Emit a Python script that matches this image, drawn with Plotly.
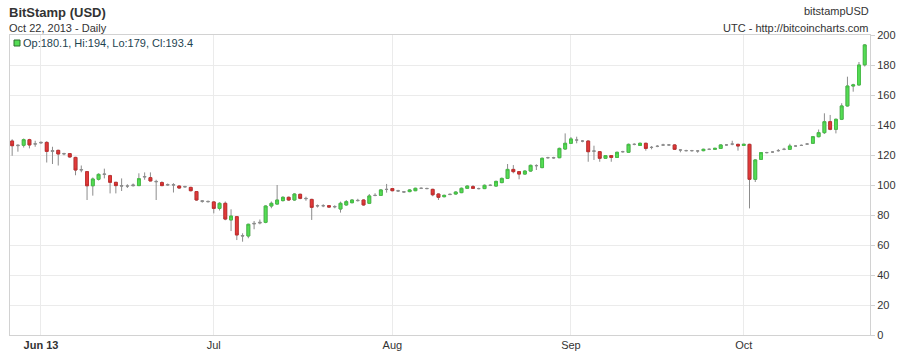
import numpy as np
import pandas as pd
import plotly.graph_objects as go

# ---- data ----
start_date = "2013-05-27"
opens = [129.3, 126.2, 126.5, 130.2, 127.5, 128.0, 128.4, 122.4, 123.1, 120.7,
         120.9, 118.4, 110.0, 108.9, 99.5, 103.8, 107.1, 106.2, 101.8, 99.6,
         99.3, 99.5, 99.6, 105.3, 104.9, 102.4, 101.6, 100.0, 100.2, 99.3,
         98.7, 98.4, 95.6, 89.5, 89.1, 88.7, 84.4, 87.8, 76.7, 78.9,
         66.3, 66.0, 74.0, 74.6, 75.1, 86.0, 87.3, 89.6, 91.8, 90.0,
         93.8, 91.1, 90.4, 86.0, 86.1, 86.2, 85.4, 84.0, 86.7, 88.2,
         89.8, 90.0, 87.8, 93.0, 93.1, 97.0, 97.6, 96.2, 95.5, 95.6,
         96.2, 97.8, 97.7, 97.1, 94.0, 92.2, 93.6, 94.0, 94.9, 97.8,
         98.9, 97.6, 97.6, 99.8, 99.3, 101.6, 104.4, 110.4, 108.9, 107.3,
         109.3, 112.9, 111.6, 118.2, 118.0, 118.2, 124.0, 127.8, 130.0, 129.3,
         129.3, 122.5, 122.2, 117.8, 119.6, 118.4, 122.2, 121.8, 127.1, 126.4,
         127.8, 125.0, 125.8, 126.6, 126.7, 126.7, 123.4, 122.9, 122.9, 122.7,
         122.9, 123.8, 123.8, 124.4, 126.7, 127.3, 127.1, 126.4, 127.1, 103.8,
         117.1, 121.6, 122.0, 122.9, 123.8, 123.8, 126.0, 126.4, 127.3, 127.8,
         132.2, 134.9, 142.2, 137.1, 143.8, 152.7, 166.0, 166.7, 180.1]
highs = [130.5, 127.1, 131.0, 130.8, 129.5, 129.0, 129.2, 125.5, 123.5, 121.5,
         121.2, 118.8, 113.0, 109.3, 105.0, 107.8, 110.9, 106.8, 102.0, 104.4,
         100.5, 101.0, 107.8, 108.4, 108.4, 103.5, 102.5, 101.0, 101.2, 99.8,
         99.5, 98.8, 96.0, 90.0, 89.6, 89.2, 88.5, 89.0, 83.8, 79.2,
         67.8, 74.2, 76.0, 77.0, 86.4, 89.0, 100.0, 92.5, 92.3, 94.5,
         94.2, 92.2, 90.8, 87.0, 87.2, 86.6, 86.5, 88.9, 90.0, 90.5,
         90.8, 90.4, 94.0, 94.5, 97.2, 100.7, 98.0, 96.8, 96.0, 97.2,
         98.2, 98.4, 98.2, 97.5, 94.4, 93.6, 94.3, 95.8, 98.3, 99.8,
         100.0, 98.2, 100.3, 100.4, 102.9, 105.0, 114.0, 113.3, 109.3, 109.8,
         113.6, 113.8, 118.3, 118.8, 118.8, 124.9, 134.4, 132.0, 132.2, 130.0,
         129.7, 126.2, 122.6, 120.0, 120.0, 122.2, 122.8, 127.6, 127.8, 128.3,
         128.2, 126.0, 126.6, 127.5, 127.3, 127.2, 124.0, 123.5, 123.4, 123.3,
         124.2, 124.4, 124.8, 127.1, 127.3, 129.5, 127.5, 127.5, 127.5, 117.2,
         122.0, 122.1, 122.5, 124.0, 124.8, 127.5, 126.6, 127.0, 128.0, 132.7,
         137.0, 147.8, 146.7, 144.3, 154.5, 172.2, 167.5, 182.0, 194.0]
lows = [119.5, 122.2, 125.0, 124.4, 125.5, 127.5, 115.0, 114.0, 113.0, 119.8,
        118.2, 106.5, 108.5, 90.0, 92.9, 103.0, 104.4, 94.4, 94.4, 96.0,
        98.0, 99.0, 99.3, 103.5, 102.5, 90.0, 99.2, 99.5, 95.0, 97.5,
        98.2, 95.8, 89.5, 88.2, 88.3, 81.1, 83.0, 76.5, 69.3, 63.3,
        62.2, 64.5, 70.5, 73.8, 74.5, 84.5, 87.0, 89.0, 89.5, 89.5,
        90.5, 89.5, 76.7, 85.0, 85.2, 84.8, 84.5, 81.6, 86.2, 87.8,
        89.0, 86.2, 87.3, 92.5, 92.8, 94.9, 95.8, 95.4, 94.8, 95.2,
        95.9, 97.3, 97.2, 92.5, 90.0, 91.8, 93.3, 93.6, 94.6, 97.5,
        97.3, 97.1, 97.3, 99.3, 99.0, 101.2, 104.0, 107.8, 103.8, 106.9,
        108.8, 110.0, 111.2, 117.6, 117.5, 117.9, 123.5, 127.4, 127.8, 128.5,
        115.5, 116.7, 115.5, 117.4, 115.5, 118.0, 121.6, 121.4, 126.5, 126.0,
        122.9, 123.8, 125.2, 126.0, 126.2, 123.4, 121.8, 122.4, 122.3, 121.5,
        122.5, 123.3, 123.4, 124.0, 126.2, 126.5, 122.9, 126.0, 84.4, 102.0,
        116.8, 121.1, 121.4, 122.2, 123.2, 123.4, 125.5, 126.0, 126.7, 127.4,
        131.8, 134.0, 136.5, 134.4, 143.3, 152.3, 162.2, 166.3, 179.0]
closes = [126.2, 126.5, 130.2, 126.7, 127.3, 128.4, 122.4, 122.9, 120.7, 120.9,
          118.7, 110.0, 110.2, 99.5, 104.0, 107.1, 107.3, 101.8, 99.6, 99.3,
          99.3, 100.0, 104.2, 105.6, 102.7, 102.2, 99.6, 100.2, 100.0, 98.0,
          98.9, 96.2, 90.0, 89.1, 88.9, 84.4, 87.8, 77.3, 79.3, 66.7,
          66.0, 73.8, 74.4, 75.1, 86.0, 87.8, 90.0, 91.8, 90.0, 94.0,
          91.1, 90.9, 85.1, 86.2, 86.2, 85.3, 85.6, 87.8, 88.9, 90.0,
          89.6, 86.7, 92.7, 93.1, 96.7, 97.1, 96.2, 96.0, 95.3, 96.7,
          97.8, 97.8, 97.6, 93.5, 91.8, 93.1, 93.8, 95.3, 97.8, 99.3,
          97.8, 97.6, 99.8, 99.8, 102.4, 104.4, 110.4, 108.9, 107.3, 109.3,
          113.1, 112.9, 117.8, 118.2, 118.2, 124.4, 127.8, 130.7, 130.0, 129.3,
          122.2, 122.7, 117.8, 119.6, 118.4, 121.8, 122.2, 127.1, 127.1, 127.8,
          124.4, 125.1, 125.8, 126.7, 126.7, 123.8, 123.3, 122.9, 122.9, 122.7,
          123.8, 123.8, 124.4, 126.7, 126.7, 127.3, 126.0, 127.1, 103.8, 116.7,
          121.6, 121.6, 122.0, 122.9, 123.8, 126.0, 126.0, 126.4, 127.3, 132.2,
          134.9, 142.2, 137.1, 143.8, 152.7, 166.0, 166.7, 180.0, 193.4]

month_ticks = ["2013-06-01", "2013-07-01", "2013-08-01", "2013-09-01", "2013-10-01"]
month_labels = ["<b>Jun 13</b>", "Jul", "Aug", "Sep", "Oct"]
y_ticks = list(range(0, 201, 20))

title_text = "BitStamp (USD)"
subtitle_text = "Oct 22, 2013 - Daily"
symbol_text = "bitstampUSD"
source_text = "UTC - http://bitcoincharts.com"

# ---- figure ----
dates = pd.date_range(start_date, periods=len(opens), freq="D")
df = pd.DataFrame({"date": dates, "open": opens, "high": highs,
                   "low": lows, "close": closes})
df["body"] = (df["close"] - df["open"]).abs()
has_body = df["body"] >= 0.6

GREEN = "#55dd55"
GREEN_EDGE = "#44c044"
RED = "#e23a3a"
RED_EDGE = "#c42e2e"
WICK = "#8c8c8c"
last = df.iloc[-1]
legend_text = (f"Op:{last['open']:g}, Hi:{last['high']:g}, "
               f"Lo:{last['low']:g}, Cl:{last['close']:g}")

fig = go.Figure()
# wicks (and doji crosses) in grey
fig.add_trace(go.Candlestick(
    x=df["date"], open=df["open"], high=df["high"], low=df["low"], close=df["close"],
    increasing=dict(line=dict(color=WICK, width=1), fillcolor=WICK),
    decreasing=dict(line=dict(color=WICK, width=1), fillcolor=WICK),
    whiskerwidth=0, hoverinfo="skip", showlegend=False))
# coloured bodies on top (no wicks: high/low equal to the body)
b_open = df["open"].where(has_body, np.nan)
b_close = df["close"].where(has_body, np.nan)
fig.add_trace(go.Candlestick(
    x=df["date"], open=b_open, close=b_close,
    high=np.maximum(b_open, b_close), low=np.minimum(b_open, b_close),
    increasing=dict(line=dict(color=GREEN_EDGE, width=1), fillcolor=GREEN),
    decreasing=dict(line=dict(color=RED_EDGE, width=1), fillcolor=RED),
    whiskerwidth=0, hoverinfo="skip", showlegend=False))

fig.update_layout(
    width=910, height=358,
    margin=dict(l=10, r=40, t=35, b=23, autoexpand=False),
    paper_bgcolor="white", plot_bgcolor="white",
    font=dict(family="Liberation Sans, Arial, sans-serif", size=11, color="#333333"),
    showlegend=False, boxgap=0.3, boxmode="overlay",
    xaxis=dict(
        type="date",
        range=["2013-05-26 15:00", "2013-10-22 22:00"],
        tickvals=month_ticks, ticktext=month_labels,
        showgrid=True, gridcolor="#ebebeb", gridwidth=1,
        showline=True, linecolor="#d2d2d2", linewidth=1, mirror=True,
        ticks="", tickfont=dict(size=11, color="#333333"),
        rangeslider=dict(visible=False), zeroline=False, fixedrange=True,
        automargin=False),
    yaxis=dict(
        range=[0, 200], tickvals=y_ticks, side="right",
        showgrid=True, gridcolor="#ebebeb", gridwidth=1,
        showline=True, linecolor="#d2d2d2", linewidth=1, mirror=True,
        ticks="outside", ticklen=4, tickcolor="#d2d2d2",
        tickfont=dict(size=11, color="#333333"), zeroline=False, fixedrange=True,
        automargin=False),
)

fig.add_annotation(text=f"<b>{title_text}</b>", xref="paper", yref="paper",
                   x=0, y=1, xanchor="left", yanchor="middle", xshift=-3, yshift=23,
                   showarrow=False, font=dict(size=13, color="#333333"))
fig.add_annotation(text=subtitle_text, xref="paper", yref="paper",
                   x=0, y=1, xanchor="left", yanchor="middle", xshift=-3, yshift=7,
                   showarrow=False, font=dict(size=11, color="#333333"))
fig.add_annotation(text=symbol_text, xref="paper", yref="paper",
                   x=1, y=1, xanchor="right", yanchor="middle", xshift=1, yshift=24,
                   showarrow=False, font=dict(size=11, color="#333333"))
fig.add_annotation(text=source_text, xref="paper", yref="paper",
                   x=1, y=1, xanchor="right", yanchor="middle", xshift=1, yshift=7,
                   showarrow=False, font=dict(size=11, color="#333333"))
fig.add_annotation(text=legend_text, xref="paper", yref="paper",
                   x=0, y=1, xanchor="left", yanchor="middle", xshift=11, yshift=-8,
                   showarrow=False, font=dict(size=11, color="#1e4450"))
fig.add_shape(type="rect", xref="paper", yref="paper",
              xsizemode="pixel", ysizemode="pixel", xanchor=0, yanchor=1,
              x0=4, x1=10, y0=-5, y1=-11,
              fillcolor=GREEN, line=dict(color="#2f6f2f", width=1))

fig.write_html("out.html",
               config=dict(displayModeBar=False, staticPlot=True),
               post_script="document.body.style.margin='0';"
                           "document.body.style.overflow='hidden';")
